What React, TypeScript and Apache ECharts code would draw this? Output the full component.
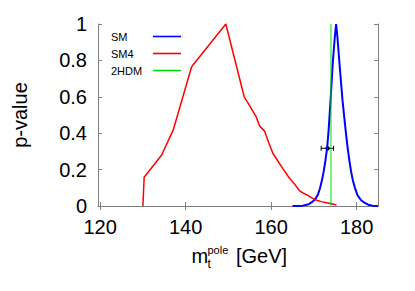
import React, { useEffect, useRef } from "react";
import * as echarts from "echarts";

const xTicks = [120, 140, 160, 180];
const yTicks = [0, 0.2, 0.4, 0.6, 0.8, 1];

const smData: [number, number][] = [
  [165.0, 0], [167.4, 0.002], [168.8, 0.01], [169.7, 0.024], [170.4, 0.04], [170.9, 0.06],
  [171.4, 0.095], [171.9, 0.143], [172.3, 0.19], [172.7, 0.25], [173.1, 0.32], [173.4, 0.4],
  [173.9, 0.58], [174.4, 0.78], [174.9, 0.93], [175.2, 1.0], [175.5, 0.93], [176.0, 0.78],
  [176.7, 0.58], [177.1, 0.49], [177.5, 0.4], [177.9, 0.32], [178.3, 0.25], [178.7, 0.19],
  [179.1, 0.143], [179.6, 0.1], [180.2, 0.06], [181.0, 0.033], [181.8, 0.018], [182.7, 0.007],
  [183.7, 0.002], [185.0, 0],
];

const sm4Data: [number, number][] = [
  [130.0, 0], [130.3, 0.158], [134.4, 0.28], [137.1, 0.418], [141.4, 0.765], [149.4, 1.0],
  [153.7, 0.6], [155.0, 0.55], [156.5, 0.49], [157.3, 0.44], [158.5, 0.41], [159.4, 0.35],
  [160.4, 0.29], [161.5, 0.25], [162.7, 0.207], [163.5, 0.18], [164.3, 0.152], [165.5, 0.12],
  [166.6, 0.085], [167.6, 0.07], [168.6, 0.058], [169.5, 0.045], [170.5, 0.033], [171.7, 0.024],
  [172.9, 0.018], [174.1, 0.012], [175.3, 0.006],
];

const hdmData: [number, number][] = [[174.0, 0], [174.0, 1]];

// [x, y, xLow, xHigh]
const measurement: [number, number, number, number][] = [[173.2, 0.317, 171.7, 174.6]];

const FONT = "'Liberation Sans', Arial, Helvetica, sans-serif";
const AXIS_GRAY = "#7f7f7f";

export default function App() {
  const ref = useRef<HTMLDivElement>(null);
  useEffect(() => {
    if (!ref.current) return;
    const chart = echarts.init(ref.current, null, { renderer: "svg" });
    const xBase = {
      type: "value" as const,
      min: 119.5,
      max: 185,
      splitLine: { show: false },
      axisLine: { show: true, lineStyle: { color: AXIS_GRAY, width: 1 } },
      axisTick: { show: true, inside: true, length: 4, customValues: xTicks, lineStyle: { color: AXIS_GRAY } },
    };
    const yBase = {
      type: "value" as const,
      min: 0,
      max: 1,
      interval: 0.2,
      splitLine: { show: false },
      axisLine: { show: true, lineStyle: { color: AXIS_GRAY, width: 1 } },
      axisTick: { show: true, inside: true, length: 4, lineStyle: { color: AXIS_GRAY } },
    };
    chart.setOption({
      animation: false,
      textStyle: { fontFamily: FONT },
      grid: { left: 98, right: 37, top: 24, bottom: 85 },
      legend: {
        data: ["SM", "SM4", "2HDM"],
        orient: "vertical",
        left: 111,
        top: 31,
        padding: 0,
        align: "right",
        icon: "rect",
        itemWidth: 28,
        itemHeight: 1.6,
        itemGap: 6,
        formatter: (name: string) => `{a|${name}}`,
        textStyle: {
          fontSize: 11,
          color: "#000",
          fontFamily: FONT,
          rich: { a: { width: 37, align: "left", fontSize: 11, lineHeight: 14, fontFamily: FONT, color: "#000" } },
        },
      },
      xAxis: [
        {
          ...xBase,
          position: "bottom",
          axisLabel: {
            show: true,
            customValues: xTicks,
            fontSize: 20,
            color: "#000",
            margin: 11,
            fontFamily: FONT,
          },
        },
        { ...xBase, position: "top", axisLabel: { show: false } },
      ],
      yAxis: [
        {
          ...yBase,
          position: "left",
          name: "p-value",
          nameLocation: "middle",
          nameRotate: 90,
          nameGap: 68,
          nameTextStyle: { fontSize: 20, color: "#000", fontFamily: FONT },
          axisLabel: {
            show: true,
            fontSize: 20,
            color: "#000",
            margin: 11,
            fontFamily: FONT,
            formatter: (v: number) => String(Math.round(v * 10) / 10),
          },
        },
        { ...yBase, position: "right", axisLabel: { show: false } },
      ],
      series: [
        {
          name: "SM",
          type: "line",
          data: smData,
          symbol: "none",
          lineStyle: { color: "#0000ff", width: 2 },
          itemStyle: { color: "#0000ff" },
        },
        {
          name: "SM4",
          type: "line",
          data: sm4Data,
          symbol: "none",
          lineStyle: { color: "#ff0000", width: 1.5 },
          itemStyle: { color: "#ff0000" },
        },
        {
          name: "2HDM",
          type: "line",
          data: hdmData,
          symbol: "none",
          lineStyle: { color: "#00dd00", width: 1 },
          itemStyle: { color: "#00dd00" },
        },
        {
          name: "measurement",
          type: "custom",
          data: measurement,
          renderItem: (_params: any, api: any) => {
            const c = api.coord([api.value(0), api.value(1)]);
            const l = api.coord([api.value(2), api.value(1)]);
            const r = api.coord([api.value(3), api.value(1)]);
            const st = { stroke: "#000", lineWidth: 1 };
            return {
              type: "group",
              children: [
                { type: "line", shape: { x1: l[0], y1: l[1], x2: r[0], y2: r[1] }, style: st },
                { type: "line", shape: { x1: l[0], y1: l[1] - 2.5, x2: l[0], y2: l[1] + 2.5 }, style: st },
                { type: "line", shape: { x1: r[0], y1: r[1] - 2.5, x2: r[0], y2: r[1] + 2.5 }, style: st },
                { type: "line", shape: { x1: c[0], y1: c[1] - 2.5, x2: c[0], y2: c[1] + 2.5 }, style: st },
                { type: "circle", shape: { cx: c[0], cy: c[1], r: 2.2 }, style: { fill: "#000" } },
              ],
            };
          },
        },
      ],
      graphic: [
        {
          type: "group",
          left: 191.5,
          top: 244,
          children: [
            { type: "text", x: 0, y: 3, style: { text: "m", font: `20px ${FONT}`, fill: "#000" } },
            { type: "text", x: 16, y: 1, style: { text: "pole", font: `11px ${FONT}`, fill: "#000" } },
            { type: "text", x: 16, y: 14.5, style: { text: "t", font: `12px ${FONT}`, fill: "#000" } },
            { type: "text", x: 44.5, y: 3, style: { text: "[GeV]", font: `20px ${FONT}`, fill: "#000" } },
          ],
        },
      ],
    });
    return () => chart.dispose();
  }, []);
  return (
    <div
      ref={ref}
      style={{ position: "absolute", left: 0, top: 0, width: 415, height: 291 }}
    />
  );
}
